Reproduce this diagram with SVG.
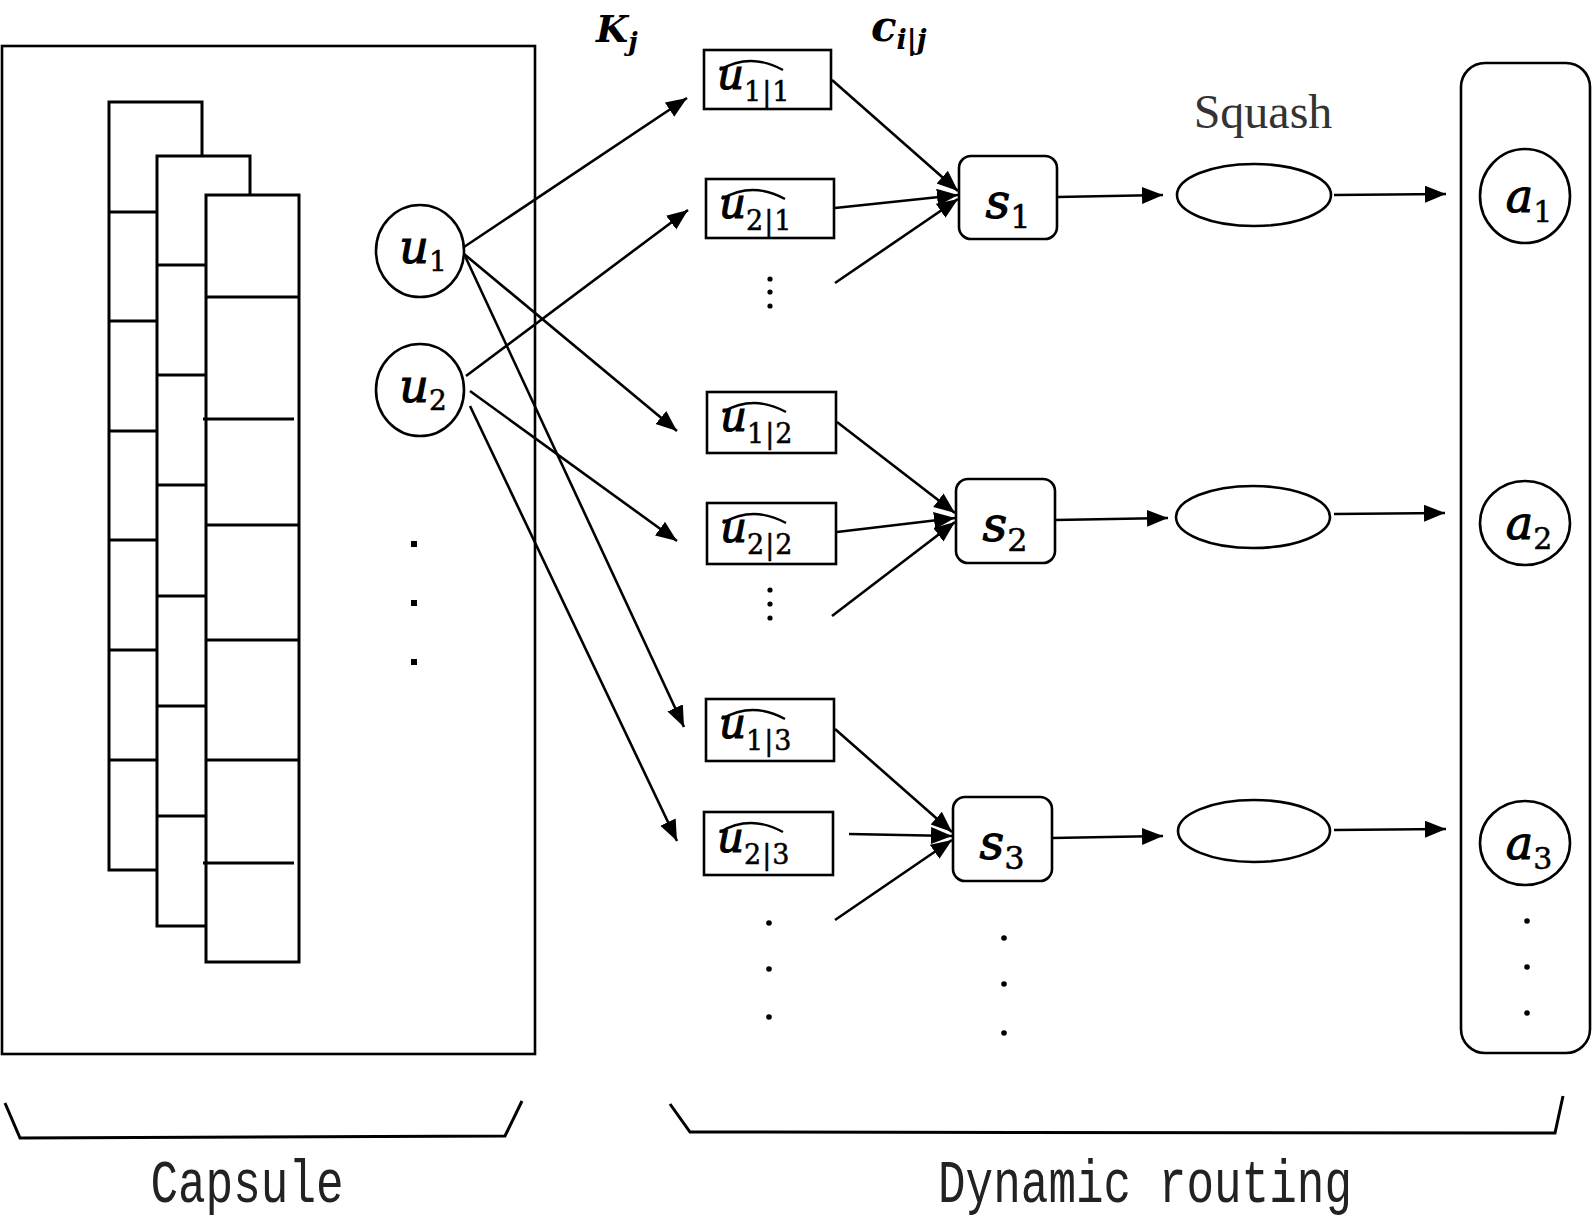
<svg xmlns="http://www.w3.org/2000/svg" width="1593" height="1220" viewBox="0 0 1593 1220">
<style>
.box{fill:#fff;stroke:#000;stroke-width:2.6}
.stk{fill:#fff;stroke:#000;stroke-width:3}
.ln{stroke:#000;stroke-width:3;fill:none}
.con{stroke:#000;stroke-width:2.6;fill:none}
.mi{font-family:"DejaVu Serif",serif;font-style:italic;stroke:#000;stroke-width:1.1}
.mb{font-family:"DejaVu Serif",serif;font-style:italic;font-weight:bold}
.sub{font-family:"DejaVu Serif",serif;font-style:normal;stroke:#000;stroke-width:0.5}
.hat{stroke:#000;stroke-width:2.4;fill:none}
.dot{fill:#000}
.lbl{font-family:"Liberation Mono",monospace;font-size:46px;fill:#222}
</style>
<defs>
<marker id="ah" markerUnits="userSpaceOnUse" markerWidth="22" markerHeight="18" refX="21" refY="8.5" orient="auto">
<path d="M0,0 L21,8.5 L0,17 z" fill="#000"/>
</marker>
</defs>

<g id="capsule">
<rect class="box" x="2" y="46" width="533" height="1008"/>
<g id="stack1">
<rect class="stk" x="109" y="102" width="93" height="768"/>
<path class="ln" d="M109,212H202M109,321H202M109,431H202M109,540H202M109,650H202M109,760H202"/>
</g>
<g id="stack2">
<rect class="stk" x="157" y="156" width="93" height="770"/>
<path class="ln" d="M157,265H250M157,375H250M157,485H250M157,596H250M157,706H250M157,816H250"/>
</g>
<g id="stack3">
<rect class="stk" x="206" y="195" width="93" height="767"/>
<path class="ln" d="M206,297H299M206,525H299M206,640H299M206,760H299M203,419H294M203,863H294"/>
</g>
<g id="capsule-dots">
<rect class="dot" x="411" y="541" width="6" height="6"/>
<rect class="dot" x="411" y="600" width="6" height="6"/>
<rect class="dot" x="411" y="659" width="6" height="6"/>
</g>
</g>

<g id="u1">
<ellipse class="box" cx="420" cy="251" rx="44" ry="46"/>
<text x="423" y="263" text-anchor="middle"><tspan class="mi" font-size="46">u</tspan><tspan class="sub" font-size="28" dy="8">1</tspan></text>
</g>
<g id="u2">
<ellipse class="box" cx="420" cy="390" rx="44" ry="46"/>
<text x="423" y="402" text-anchor="middle"><tspan class="mi" font-size="46">u</tspan><tspan class="sub" font-size="28" dy="8">2</tspan></text>
</g>

<g id="label-Kj">
<text x="596" y="42"><tspan class="mb" font-size="37">K</tspan><tspan class="mb" font-size="26" dy="9">j</tspan></text>
</g>
<g id="label-cij">
<text x="871" y="41"><tspan class="mb" font-size="42">c</tspan><tspan class="mb" font-size="27" dy="8">i|j</tspan></text>
</g>

<g id="uh11" transform="translate(704,50)">
<rect class="box" x="0" y="0" width="127" height="59"/>
<path class="hat" d="M16,20 C26,14 36,11 47,11 C58,11 68,14 79,20"/>
<text x="13" y="39"><tspan class="mi" font-size="42">u</tspan><tspan class="sub" font-size="27" dy="12" letter-spacing="1">1|1</tspan></text>
</g>
<g id="uh21" transform="translate(706,179)">
<rect class="box" x="0" y="0" width="128" height="59"/>
<path class="hat" d="M16,20 C26,14 36,11 47,11 C58,11 68,14 79,20"/>
<text x="13" y="39"><tspan class="mi" font-size="42">u</tspan><tspan class="sub" font-size="27" dy="12" letter-spacing="1">2|1</tspan></text>
</g>
<g id="uh12" transform="translate(707,392)">
<rect class="box" x="0" y="0" width="129" height="61"/>
<path class="hat" d="M16,20 C26,14 36,11 47,11 C58,11 68,14 79,20"/>
<text x="13" y="39"><tspan class="mi" font-size="42">u</tspan><tspan class="sub" font-size="27" dy="12" letter-spacing="1">1|2</tspan></text>
</g>
<g id="uh22" transform="translate(707,503)">
<rect class="box" x="0" y="0" width="129" height="61"/>
<path class="hat" d="M16,20 C26,14 36,11 47,11 C58,11 68,14 79,20"/>
<text x="13" y="39"><tspan class="mi" font-size="42">u</tspan><tspan class="sub" font-size="27" dy="12" letter-spacing="1">2|2</tspan></text>
</g>
<g id="uh13" transform="translate(706,699)">
<rect class="box" x="0" y="0" width="128" height="62"/>
<path class="hat" d="M16,20 C26,14 36,11 47,11 C58,11 68,14 79,20"/>
<text x="13" y="39"><tspan class="mi" font-size="42">u</tspan><tspan class="sub" font-size="27" dy="12" letter-spacing="1">1|3</tspan></text>
</g>
<g id="uh23" transform="translate(704,812)">
<rect class="box" x="0" y="0" width="129" height="63"/>
<path class="hat" d="M16,20 C26,14 36,11 47,11 C58,11 68,14 79,20"/>
<text x="13" y="40"><tspan class="mi" font-size="42">u</tspan><tspan class="sub" font-size="27" dy="12" letter-spacing="1">2|3</tspan></text>
</g>

<g id="uhat-dots">
<circle class="dot" cx="770" cy="279" r="2.6"/><circle class="dot" cx="770" cy="292" r="2.6"/><circle class="dot" cx="770" cy="306" r="2.6"/>
<circle class="dot" cx="770" cy="590" r="2.6"/><circle class="dot" cx="770" cy="604" r="2.6"/><circle class="dot" cx="770" cy="618" r="2.6"/>
<circle class="dot" cx="769" cy="923" r="2.8"/><circle class="dot" cx="769" cy="969" r="2.8"/><circle class="dot" cx="769" cy="1017" r="2.8"/>
</g>

<g id="s1">
<rect class="box" x="959" y="156" width="98" height="83" rx="12"/>
<text x="1008" y="218" text-anchor="middle"><tspan class="mi" font-size="48">s</tspan><tspan class="sub" font-size="32" dy="10">1</tspan></text>
</g>
<g id="s2">
<rect class="box" x="956" y="479" width="99" height="84" rx="12"/>
<text x="1005" y="541" text-anchor="middle"><tspan class="mi" font-size="48">s</tspan><tspan class="sub" font-size="32" dy="10">2</tspan></text>
</g>
<g id="s3">
<rect class="box" x="953" y="797" width="99" height="84" rx="12"/>
<text x="1002" y="859" text-anchor="middle"><tspan class="mi" font-size="48">s</tspan><tspan class="sub" font-size="32" dy="10">3</tspan></text>
</g>
<g id="s-dots">
<circle class="dot" cx="1004" cy="938" r="2.8"/><circle class="dot" cx="1004" cy="984" r="2.8"/><circle class="dot" cx="1004" cy="1033" r="2.8"/>
</g>

<g id="squash-label">
<text x="1263" y="128" text-anchor="middle" font-family="Liberation Serif, serif" font-size="48" fill="#333">Squash</text>
</g>
<g id="e1"><ellipse class="box" cx="1254" cy="195" rx="77" ry="31"/></g>
<g id="e2"><ellipse class="box" cx="1253" cy="517" rx="77" ry="31"/></g>
<g id="e3"><ellipse class="box" cx="1254" cy="831" rx="76" ry="31"/></g>

<g id="output">
<rect class="box" x="1461" y="63" width="129" height="990" rx="24"/>
<g id="a1">
<ellipse class="box" cx="1525" cy="196" rx="45" ry="47"/>
<text x="1529" y="212" text-anchor="middle"><tspan class="mi" font-size="46">a</tspan><tspan class="sub" font-size="30" dy="10">1</tspan></text>
</g>
<g id="a2">
<ellipse class="box" cx="1525" cy="523" rx="45" ry="42"/>
<text x="1529" y="539" text-anchor="middle"><tspan class="mi" font-size="46">a</tspan><tspan class="sub" font-size="30" dy="10">2</tspan></text>
</g>
<g id="a3">
<ellipse class="box" cx="1525" cy="843" rx="45" ry="42"/>
<text x="1529" y="859" text-anchor="middle"><tspan class="mi" font-size="46">a</tspan><tspan class="sub" font-size="30" dy="10">3</tspan></text>
</g>
<circle class="dot" cx="1527" cy="921" r="2.8"/><circle class="dot" cx="1527" cy="967" r="2.8"/><circle class="dot" cx="1527" cy="1013" r="2.8"/>
</g>

<g id="connectors">
<line class="con" x1="464" y1="247" x2="687" y2="98" marker-end="url(#ah)"/>
<line class="con" x1="464" y1="254" x2="677" y2="431" marker-end="url(#ah)"/>
<line class="con" x1="465" y1="256" x2="684" y2="727" marker-end="url(#ah)"/>
<line class="con" x1="466" y1="376" x2="688" y2="210" marker-end="url(#ah)"/>
<line class="con" x1="470" y1="391" x2="677" y2="541" marker-end="url(#ah)"/>
<line class="con" x1="470" y1="406" x2="677" y2="841" marker-end="url(#ah)"/>

<line class="con" x1="832" y1="80" x2="958" y2="191" marker-end="url(#ah)"/>
<line class="con" x1="835" y1="208" x2="958" y2="195" marker-end="url(#ah)"/>
<line class="con" x1="835" y1="283" x2="958" y2="199" marker-end="url(#ah)"/>
<line class="con" x1="837" y1="422" x2="955" y2="513" marker-end="url(#ah)"/>
<line class="con" x1="837" y1="532" x2="955" y2="518" marker-end="url(#ah)"/>
<line class="con" x1="832" y1="616" x2="955" y2="522" marker-end="url(#ah)"/>
<line class="con" x1="835" y1="729" x2="952" y2="832" marker-end="url(#ah)"/>
<line class="con" x1="849" y1="834" x2="952" y2="836" marker-end="url(#ah)"/>
<line class="con" x1="835" y1="920" x2="952" y2="840" marker-end="url(#ah)"/>

<line class="con" x1="1057" y1="197" x2="1163" y2="195" marker-end="url(#ah)"/>
<line class="con" x1="1055" y1="520" x2="1168" y2="518" marker-end="url(#ah)"/>
<line class="con" x1="1052" y1="838" x2="1163" y2="836" marker-end="url(#ah)"/>
<line class="con" x1="1334" y1="195" x2="1446" y2="194" marker-end="url(#ah)"/>
<line class="con" x1="1334" y1="514" x2="1445" y2="513" marker-end="url(#ah)"/>
<line class="con" x1="1334" y1="830" x2="1446" y2="829" marker-end="url(#ah)"/>
</g>

<g id="brace-capsule">
<path class="ln" d="M5,1103 L20,1138 L505,1136 L522,1101"/>
<text class="lbl" text-anchor="middle" transform="translate(247,1202) scale(1,1.33)">Capsule</text>
</g>
<g id="brace-routing">
<path class="ln" d="M670,1104 L690,1132 L1555,1133 L1563,1096"/>
<text class="lbl" text-anchor="middle" transform="translate(1145,1202) scale(1,1.33)">Dynamic routing</text>
</g>
</svg>
